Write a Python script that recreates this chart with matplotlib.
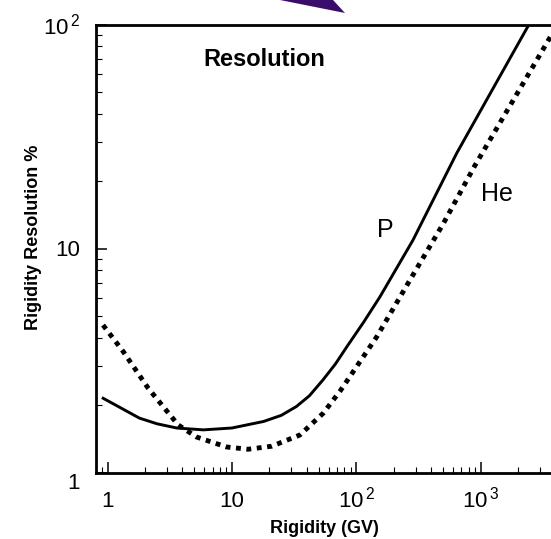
import matplotlib
matplotlib.use("Agg")
import matplotlib.pyplot as plt
from matplotlib.patches import Polygon
from matplotlib.ticker import LogLocator, NullFormatter
from matplotlib.transforms import ScaledTranslation

plt.rcParams['font.family'] = ['Liberation Sans', 'DejaVu Sans']
plt.rcParams['mathtext.fontset'] = 'custom'
plt.rcParams['mathtext.rm'] = 'Liberation Sans'
plt.rcParams['mathtext.default'] = 'regular'

# Proton (P) rigidity resolution vs rigidity
rig_p = [0.9, 1.2, 1.8, 2.5, 3.6, 5.9, 10, 18, 25, 33, 42, 54, 68, 84, 115, 155, 286, 642, 2450]
res_p = [2.16, 1.98, 1.75, 1.65, 1.58, 1.55, 1.58, 1.69, 1.80, 1.97, 2.2, 2.59, 3.05, 3.64, 4.7, 6.08, 10.9, 26.6, 100]

# Helium (He)
rig_he = [0.92, 1.34, 2.12, 3.7, 5.2, 9.06, 13.5, 20.9, 35.2, 54.3, 75, 146, 270, 501, 902, 3510, 4000]
res_he = [4.55, 3.46, 2.38, 1.63, 1.44, 1.30, 1.27, 1.31, 1.47, 1.84, 2.33, 4.03, 7.22, 12.9, 23.5, 85, 96]

x_ticks = [1, 10, 100, 1000]
x_labels = ['1', '10', r'$10^{\,2}$', r'$10^{\,3}$']
y_ticks = [1, 10, 100]
y_labels = ['1', '10', r'$10^{\,2}$']

W, H = 551, 539
fig = plt.figure(figsize=(W / 100, H / 100), dpi=100)
# axes runs past the right edge of the figure
ax = fig.add_axes([95.5 / W, 66.5 / H, 509.4 / W, 448 / H])

ax.plot(rig_p, res_p, color='black', lw=2.1, solid_capstyle='butt')
ax.plot(rig_he, res_he, color='black', lw=3.5, linestyle=(0, (1, 1.15)), dash_capstyle='butt')

ax.set_xscale('log')
ax.set_yscale('log')
ax.set_xlim(0.8, 1e4)
ax.set_ylim(1, 100)

ax.set_xticks(x_ticks, x_labels)
ax.set_yticks(y_ticks, y_labels)
ax.xaxis.set_minor_locator(LogLocator(base=10, subs=range(2, 10), numticks=20))
ax.yaxis.set_minor_locator(LogLocator(base=10, subs=range(2, 10), numticks=20))
ax.xaxis.set_minor_formatter(NullFormatter())
ax.yaxis.set_minor_formatter(NullFormatter())

ax.tick_params(which='major', direction='in', length=8, width=1.1, labelsize=16)
ax.tick_params(which='minor', direction='in', length=4.5, width=0.8)
ax.tick_params(axis='x', which='major', pad=25)
ax.tick_params(axis='y', which='major', pad=11)
ax.tick_params(top=False, right=False, which='both')

for lab in ax.get_xticklabels():
    lab.set_verticalalignment('baseline')
# the "1" on the y axis sits a little below its tick
ylab1 = ax.get_yticklabels()[0]
ylab1.set_transform(ylab1.get_transform() + ScaledTranslation(0, -8.5 / 100, fig.dpi_scale_trans))

for side in ['left', 'bottom', 'top']:
    ax.spines[side].set_linewidth(2.0)
ax.spines['right'].set_visible(False)

ax.set_xlabel('Rigidity (GV)', fontsize=13, fontweight='bold')
ax.xaxis.set_label_coords(0.4486, -0.106)
ax.set_ylabel('Rigidity Resolution %', fontsize=13, fontweight='bold')
ax.yaxis.set_label_coords(-0.105, 0.5257)

ax.text(0.331, 0.921, 'Resolution', transform=ax.transAxes, fontsize=17,
        fontweight='bold', ha='center', va='center')
ax.text(170, 12.1, 'P', fontsize=18, ha='center', va='center')
ax.text(1355, 17.5, 'He', fontsize=18, ha='center', va='center')

# purple arrow tip poking in at the top
tip = [(280 / W, 1.0), (333 / W, 1.0), (345 / W, 1 - 13 / H)]
fig.patches.append(Polygon(tip, closed=True, transform=fig.transFigure,
                           facecolor='#3a0c6b', edgecolor='none'))

fig.savefig('out.png', dpi=100)
